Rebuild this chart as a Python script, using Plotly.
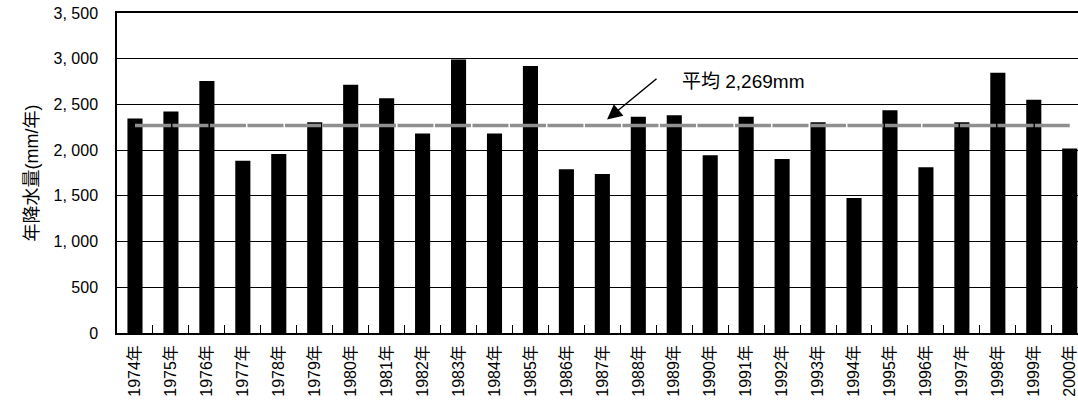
import plotly.graph_objects as go

years = [f"{y}年" for y in range(1974, 2001)]
rainfall = [2345, 2422, 2755, 1885, 1958, 2305, 2714, 2568, 2181, 2992,
            2181, 2919, 1790, 1739, 2364, 2382, 1944, 2364, 1903, 2305,
            1476, 2437, 1812, 2305, 2846, 2550, 2017]
mean_value = 2269
y_ticks = [0, 500, 1000, 1500, 2000, 2500, 3000, 3500]
y_ticktext = ["0", "500", "1, 000", "1, 500", "2, 000", "2, 500", "3, 000", "3, 500"]
avg_label = "平均 2,269mm"
y_title = "年降水量(mm/年)"

FONT = "Liberation Sans, Arial, Noto Sans CJK JP, sans-serif"

fig = go.Figure()
fig.add_trace(go.Bar(x=years, y=rainfall, marker=dict(color="black", line=dict(width=0)),
                     showlegend=False))
fig.add_trace(go.Scatter(x=[years[0], years[-1]], y=[mean_value, mean_value], mode="lines",
                         line=dict(color="#8f8f8f", width=3.5, dash="36px,1.5px"),
                         showlegend=False))

fig.add_annotation(x=13.13, y=2335, xref="x", yref="y", ax=51, ay=-42,
                   showarrow=True, arrowhead=2, arrowsize=2.0, arrowwidth=1.5,
                   arrowcolor="black", text="")
fig.add_annotation(x=15.15, y=2750, xref="x", yref="y", text=avg_label, showarrow=False,
                   xanchor="left", yanchor="middle",
                   font=dict(family=FONT, size=19, color="black"))

fig.update_layout(
    width=1078, height=412,
    margin=dict(l=117, r=0, t=13, b=79),
    plot_bgcolor="white", paper_bgcolor="white",
    bargap=0.58,
    font=dict(family=FONT, size=15, color="black"),
    xaxis=dict(type="category", range=[-0.5, 26.23], showline=True, linecolor="black",
               linewidth=1.5, mirror=True, ticks="inside", ticklen=8, tickcolor="black",
               tickson="boundaries", tickangle=-90, showgrid=False, automargin=False,
               ticklabelstandoff=4, tickfont=dict(family=FONT, size=16)),
    yaxis=dict(range=[0, 3500], tickvals=y_ticks, ticktext=y_ticktext, showline=True,
               linecolor="black", linewidth=1.5, showgrid=True, gridcolor="black",
               gridwidth=1, zeroline=False, ticks="", ticklabelstandoff=14, automargin=False,
               tickfont=dict(family=FONT, size=16),
               title=dict(text=y_title, standoff=10, font=dict(family=FONT, size=18))),
)

fig.write_html("out.html", config={"displayModeBar": False},
               post_script="document.body.style.margin='0';document.body.style.overflow='hidden';")
